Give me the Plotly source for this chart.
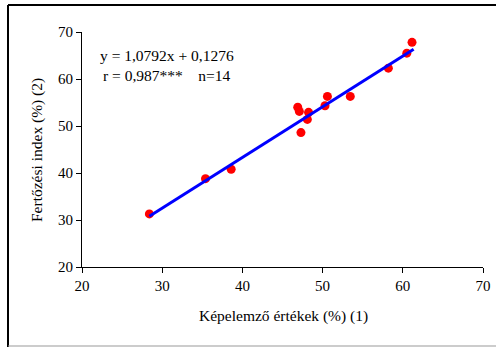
import plotly.graph_objects as go

# Data
x_vals = [28.4, 35.4, 38.6, 46.9, 47.1, 47.3, 48.25, 48.1, 50.3, 50.6, 53.45, 58.2, 60.5, 61.15]
y_vals = [31.3, 38.8, 40.8, 54.0, 53.1, 48.6, 52.9, 51.4, 54.3, 56.3, 56.3, 62.3, 65.5, 67.8]
slope = 1.0792
intercept = 0.1276
line_x = [28.4, 61.35]
line_y = [slope * v + intercept for v in line_x]
x_ticks = [20, 30, 40, 50, 60, 70]
y_ticks = [20, 30, 40, 50, 60, 70]

FONT = "Liberation Serif"

fig = go.Figure()
fig.add_trace(go.Scatter(x=x_vals, y=y_vals, mode="markers",
                         marker=dict(color="#ff0000", size=9, line=dict(width=0)),
                         showlegend=False, cliponaxis=False))
fig.add_trace(go.Scatter(x=line_x, y=line_y, mode="lines",
                         line=dict(color="#0000ff", width=3), showlegend=False))

L, T, W, H = 82, 32, 401, 235
def px(xp):
    return (xp - L) / W
def py(yp):
    return (T + H - yp) / H

axis_common = dict(range=[20, 70], showgrid=False, zeroline=False, automargin=False,
                   showline=True, linecolor="#000000", linewidth=1,
                   ticks="outside", ticklen=5, tickcolor="#000000", tickwidth=1,
                   tickfont=dict(family=FONT, size=15, color="#000000"))

TF = dict(family=FONT, size=15.5, color="#000000")

fig.update_layout(
    width=496, height=347, autosize=False,
    margin=dict(l=L, r=496 - L - W, t=T, b=347 - T - H, autoexpand=False),
    paper_bgcolor="white", plot_bgcolor="white",
    xaxis=dict(tickvals=x_ticks, **axis_common),
    yaxis=dict(tickvals=y_ticks, **axis_common),
    annotations=[
        dict(text="Képelemző értékek (%) (1)", xref="paper", yref="paper",
             x=px(283), y=py(316), xanchor="center", yanchor="middle",
             showarrow=False, font=TF),
        dict(text="Fertőzési index (%) (2)", xref="paper", yref="paper",
             x=px(37), y=py(150), xanchor="center", yanchor="middle", textangle=-90,
             showarrow=False, font=TF),
        dict(text="y = 1,0792x + 0,1276", xref="paper", yref="paper",
             x=px(166.5), y=py(55), xanchor="center", yanchor="middle",
             showarrow=False, font=TF),
        dict(text="r = 0,987***\u00a0\u00a0\u00a0 n=14", xref="paper", yref="paper",
             x=px(166.5), y=py(75), xanchor="center", yanchor="middle",
             showarrow=False, font=TF),
    ],
    shapes=[
        dict(type="line", xref="paper", yref="paper", x0=px(8), x1=px(497), y0=py(5), y1=py(5),
             line=dict(color="#000000", width=2)),
        dict(type="line", xref="paper", yref="paper", x0=px(8), x1=px(8), y0=py(5), y1=py(348),
             line=dict(color="#000000", width=2)),
        dict(type="line", xref="paper", yref="paper", x0=px(8), x1=px(497), y0=py(346), y1=py(346),
             line=dict(color="#999999", width=1)),
    ],
)

fig.write_html("out.html",
               config={"responsive": False, "displayModeBar": False, "staticPlot": True},
               post_script="document.documentElement.style.overflow='hidden';document.body.style.margin='0';document.body.style.overflow='hidden';")
